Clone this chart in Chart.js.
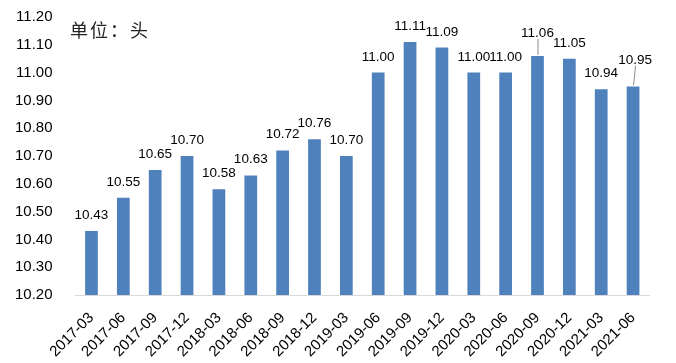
<!DOCTYPE html>
<html><head><meta charset="utf-8">
<script src="https://cdn.jsdelivr.net/npm/chart.js@4.4.1/dist/chart.umd.min.js"></script>
<style>html,body{margin:0;padding:0;background:#fff}#wrap{width:676px;height:363px}</style>
</head><body><div id="wrap"><canvas id="c" width="676" height="363"></canvas></div>
<script>
const categories = ["2017-03","2017-06","2017-09","2017-12","2018-03","2018-06","2018-09","2018-12","2019-03","2019-06","2019-09","2019-12","2020-03","2020-06","2020-09","2020-12","2021-03","2021-06"];
const values = [10.43,10.55,10.65,10.70,10.58,10.63,10.72,10.76,10.70,11.00,11.11,11.09,11.00,11.00,11.06,11.05,10.94,10.95];
const yTicks = [10.20,10.30,10.40,10.50,10.60,10.70,10.80,10.90,11.00,11.10,11.20];
const unitText = "单位：头";
// label raise (style): extra px with leader line
const labelRaise = {14: 7, 17: 11};

const labelPlugin = {
  id: 'labels',
  afterDatasetsDraw(chart) {
    const ctx = chart.ctx;
    const meta = chart.getDatasetMeta(0);
    ctx.save();
    ctx.font = '13.5px "Liberation Sans", Arial, sans-serif';
    ctx.fillStyle = '#000';
    ctx.textAlign = 'center';
    ctx.textBaseline = 'alphabetic';
    meta.data.forEach((bar, i) => {
      const raise = labelRaise[i] || 0;
      const base = bar.y - 12 - raise;
      const dx = i === 17 ? 2 : 0;
      ctx.fillText(values[i].toFixed(2), bar.x + dx, base);
      if (raise) {
        ctx.strokeStyle = '#8c8c8c';
        ctx.lineWidth = 1;
        ctx.beginPath();
        ctx.moveTo(bar.x + 0.5, bar.y - 1);
        ctx.lineTo(bar.x + dx + 0.5, base + 2);
        ctx.stroke();
      }
    });
    ctx.font = '18px "Noto Sans CJK SC", sans-serif';
    ctx.textAlign = 'left';
    ctx.fillStyle = '#222';
    try { ctx.letterSpacing = '2px'; } catch (e) {}
    ctx.fillText(unitText, 70, 37);
    ctx.restore();
  }
};

new Chart(document.getElementById('c'), {
  type: 'bar',
  data: { labels: categories, datasets: [{ data: values, backgroundColor: '#4f81bd', categoryPercentage: 1, barPercentage: 0.4 }] },
  options: {
    responsive: false, animation: false, devicePixelRatio: 1,
    layout: { padding: { top: 17, right: 27, left: 0, bottom: 0 } },
    plugins: { legend: { display: false }, tooltip: { enabled: false } },
    scales: {
      y: {
        min: 10.2, max: 11.2,
        afterBuildTicks(s) { s.ticks = yTicks.map(v => ({ value: v })); },
        afterFit(s) { s.paddingTop = 0; s.paddingBottom = 0; },
        ticks: { callback: v => Number(v).toFixed(2), font: { size: 15, family: '"Liberation Sans", Arial, sans-serif' }, color: '#000', padding: 15 },
        grid: { display: false }, border: { display: false }
      },
      x: {
        afterFit(s) { s.height = 68; },
        ticks: { maxRotation: 45, minRotation: 45, autoSkip: false, font: { size: 15, family: '"Liberation Sans", Arial, sans-serif' }, color: '#000', padding: 14 },
        grid: { display: false, drawTicks: false }, border: { display: true, color: '#d9d9d9' }
      }
    }
  },
  plugins: [labelPlugin]
});
</script></body></html>
